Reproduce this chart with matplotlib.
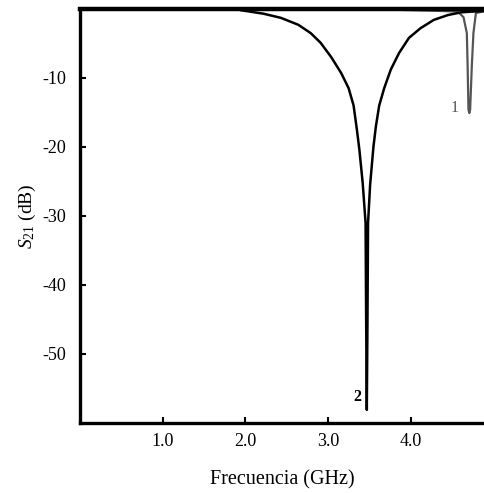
import numpy as np
import matplotlib
matplotlib.use("Agg")
import matplotlib.pyplot as plt

plt.rcParams['font.family'] = ['Liberation Serif', 'DejaVu Serif']
plt.rcParams['mathtext.fontset'] = 'custom'
plt.rcParams['mathtext.rm'] = 'Liberation Serif'
plt.rcParams['mathtext.it'] = 'Liberation Serif:italic'

# Resonator 2 (black, deep notch near 3.47 GHz)
freq2 = [1.95, 2.22, 2.43, 2.64, 2.79, 2.91, 3.04, 3.16, 3.25, 3.31, 3.35, 3.38,
         3.42, 3.455, 3.462, 3.47, 3.478, 3.485, 3.51, 3.55, 3.58, 3.62, 3.68,
         3.76, 3.86, 3.98, 4.12, 4.28, 4.45, 4.61, 4.73, 4.91]
s21_2 = [-0.2, -0.7, -1.3, -2.3, -3.5, -4.9, -7.0, -9.3, -11.5, -14.0, -17.5, -20.4,
         -25.2, -31.0, -45.0, -58.1, -45.0, -31.0, -25.5, -20.0, -17.0, -14.0, -11.5,
         -8.8, -6.4, -4.2, -2.8, -1.6, -0.9, -0.5, -0.4, -0.3]

# Resonator 1 (grey, narrow notch near 4.71 GHz)
freq1 = [3.88, 4.37, 4.57, 4.64, 4.68, 4.69, 4.70, 4.71, 4.72, 4.74, 4.76, 4.79, 4.91]
s21_1 = [-0.15, -0.3, -0.4, -1.2, -3.5, -8.4, -14.6, -15.1, -14.6, -8.4, -3.5, -0.6, -0.3]

xticks = [1.0, 2.0, 3.0, 4.0]
yticks = [-10, -20, -30, -40, -50]

fig = plt.figure(figsize=(4.85, 4.93), dpi=100)
ax = fig.add_axes([0.165, 0.142, 0.835, 0.840])

ax.plot(freq1, s21_1, color='#555555', lw=1.6)
ax.plot(freq2, s21_2, color='black', lw=1.8)

ax.text(3.35, -56.3, '2', fontsize=11.5, fontweight='bold', ha='center', va='center')
ax.text(4.53, -14.3, '1', fontsize=11.5, color='#555555', ha='center', va='center')

ax.set_xlim(0, 4.9)
ax.set_ylim(-60, 0)
ax.set_xticks(xticks)
ax.set_xticklabels(['%.1f' % t for t in xticks])
ax.set_yticks(yticks)
ax.set_yticklabels(['%d' % t for t in yticks])
ax.tick_params(direction='in', length=4, width=1.5, labelsize=13, colors='black')
ax.tick_params(axis='y', pad=10)
ax.tick_params(axis='x', pad=7)

ax.spines['right'].set_visible(False)
ax.spines['left'].set_linewidth(2.4)
ax.spines['bottom'].set_linewidth(2.4)
ax.spines['top'].set_linewidth(3.2)

ax.set_xlabel('Frecuencia (GHz)', fontsize=14.5, labelpad=15)
ax.set_ylabel('$S_{21}$ (dB)', fontsize=14, labelpad=3)

fig.savefig('out.png', dpi=100)
